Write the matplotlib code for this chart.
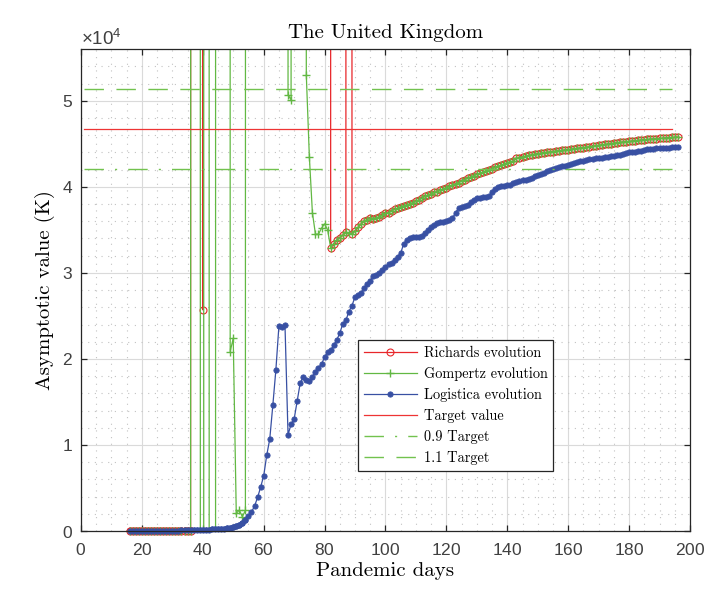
import matplotlib
matplotlib.use("Agg")
import matplotlib.pyplot as plt
from matplotlib.ticker import MultipleLocator, ScalarFormatter

plt.rcParams["font.family"] = ["Liberation Sans", "DejaVu Sans"]
plt.rcParams["mathtext.fontset"] = "custom"
plt.rcParams["mathtext.rm"] = "Liberation Sans"
plt.rcParams["axes.formatter.use_mathtext"] = True

# ---------------- DATA ----------------
# pandemic days 16..196 (one fit per day)
days = list(range(16, 197))

# Richards fits, days 16..81 (huge values = diverged fit, off the chart)
richards_head = [
    5, 5, 6, 6, 7, 7, 8, 8, 9, 9,
    10, 10, 11, 11, 12, 12, 13, 13, 14, 14, 15,
    3.1e6, 4.2e6, 2.7e6, 25700,
    5.0e6, 4.8e6, 6.1e6, 5.5e6, 4.9e6, 5.2e6, 6.3e6, 5.8e6, 4.4e6, 4.7e6,
    5.1e6, 5.6e6, 6.0e6, 5.3e6, 4.6e6, 4.9e6, 5.4e6, 5.9e6, 6.2e6, 5.0e6,
    4.5e6, 4.8e6, 5.3e6, 5.7e6, 6.1e6, 5.5e6, 5.2e6, 4.9e6, 4.6e6, 5.0e6,
    5.4e6, 5.8e6, 6.0e6, 5.6e6, 5.1e6, 4.7e6, 4.4e6, 4.9e6, 5.3e6, 5.7e6,
    5.2e6,
]

# Gompertz fits, days 16..81
gompertz_head = [
    5, 5, 6, 6, 7, 7, 8, 8, 9, 9,
    10, 10, 11, 11, 12, 12, 13, 13, 14, 14, 15,
    2.1e6, 3.4e6, 1.0e6, -4.0e6, 9.0e6, 1.0e6, -9.0e6, -2.0e6, 8.0e6, 6.5e6,
    5.2e6, 4.1e6,
    20850, 22400, 2060, 2440, 1660, 2400,
    3.2e6, 4.5e6, 5.1e6, 3.8e6, 4.4e6, 6.0e6, 5.2e6, 3.9e6, 4.7e6, 5.5e6,
    4.1e6, 3.6e6, 2.9e6,
    50700, 50100,
    2.4e6, 3.1e6, 2.6e6, 1.9e6,
    53000, 43500, 37000, 34500, 34500, 35200, 35700, 35000,
]

# common tail of Richards / Gompertz, days 82..196
converged_tail = [
    32900, 33400, 33800, 34100, 34400, 34700, 34600, 34500, 34900, 35300,
    35700, 36000, 36200, 36400, 36300, 36400, 36500, 36700, 36900, 37000,
    37200, 37400, 37500, 37700, 37800, 37900, 38000, 38170, 38300, 38500,
    38700, 38900, 39050, 39200, 39350, 39450, 39600, 39750, 39900, 40050,
    40200, 40350, 40500, 40700, 40850, 41000, 41150, 41300, 41450, 41550,
    41700, 41850, 41980, 42100, 42250, 42400, 42500, 42650, 42800, 42900,
    43000, 43300, 43400, 43500, 43550, 43650, 43700, 43800, 43850, 43900,
    43980, 44000, 44050, 44100, 44150, 44200, 44230, 44280, 44330, 44380,
    44420, 44470, 44520, 44560, 44600, 44650, 44720, 44770, 44820, 44870,
    44920, 44970, 45020, 45080, 45130, 45170, 45200, 45240, 45280, 45320,
    45360, 45400, 45440, 45470, 45500, 45530, 45560, 45600, 45630, 45660,
    45690, 45710, 45740, 45760, 45780,
]
richards_day88 = 4.6e6  # Richards diverges once more on day 88

# Logistic fits, days 16..196
logistica = [
    10, 12, 14, 16, 18, 20, 22, 25, 28, 31,
    35, 38, 42, 46, 50, 55, 60, 66, 72, 80,
    88, 97, 107, 118, 130, 145, 160, 180, 200, 225,
    255, 290, 330, 380, 450, 560, 700, 900, 1300, 1700,
    2200, 2900, 3900, 5100, 6400, 8800, 10700, 14600, 18700, 23800,
    23700, 23900, 11200, 12400, 13000, 15100, 17200, 17900, 17500, 17400,
    17900, 18500, 19000, 19400, 20200, 20800, 21000, 21600, 22200, 23000,
    24100, 24500, 25500, 26200, 27200, 27400, 27700, 28200, 28700, 29100,
    29600, 29700, 30000, 30300, 30700, 31000, 31200, 31500, 31900, 32300,
    33400, 33800, 34100, 34150, 34150, 34200, 34250, 34600, 35000, 35300,
    35600, 35850, 35900, 35950, 36000, 36100, 36350, 37000, 37500, 37600,
    37800, 37900, 38200, 38500, 38700, 38750, 38800, 38850, 38900, 39400,
    39800, 40000, 40100, 40150, 40200, 40250, 40400, 40600, 40650, 40750,
    40850, 40950, 41050, 41200, 41350, 41500, 41650, 41850, 42000, 42100,
    42200, 42300, 42400, 42450, 42550, 42650, 42750, 42850, 42950, 43050,
    43150, 43200, 43250, 43300, 43350, 43400, 43450, 43500, 43550, 43600,
    43650, 43750, 43850, 43950, 44000, 44050, 44100, 44150, 44200, 44300,
    44350, 44400, 44450, 44480, 44500, 44520, 44540, 44550, 44570, 44600,
    44600,
]

TARGET = 46740
TARGET_DAYS = [1, 194]

richards = richards_head + converged_tail
richards[88 - 16] = richards_day88
gompertz = gompertz_head + converged_tail

# ---------------- STYLE ----------------
RED = "#e8262a"
RED_T = "#ee3434"
GREEN = "#62b843"
GREEN_T = "#72c24e"
BLUE = "#3850a3"
SERIF = "cmr10"

fig = plt.figure(figsize=(7.06, 5.92), dpi=100)
ax = fig.add_axes([0.1147, 0.103, 0.8626, 0.814])

series = [
    (richards, dict(color=RED, marker="o", ms=5.0, mfc="none", mew=0.8),
     "Richards evolution"),
    (gompertz, dict(color=GREEN, marker="+", ms=5.2, mew=1.0),
     "Gompertz evolution"),
    (logistica, dict(color=BLUE, marker="o", ms=3.8, mew=0.6),
     "Logistica evolution"),
]
for vals, style, name in series:
    ax.plot(days, vals, lw=0.9, label=name, **style)
    # markers sitting on the x axis are not cut in half
    low = [(d, v) for d, v in zip(days, vals) if 0 <= v < 1500]
    ax.plot([d for d, _ in low], [v for _, v in low], ls="none",
            clip_on=False, zorder=2.5, **style)

ax.plot(TARGET_DAYS, [TARGET, TARGET], color=RED_T, lw=0.9, label="Target value")
ax.plot(TARGET_DAYS, [0.9 * TARGET] * 2, color=GREEN_T, lw=1.0,
        dashes=(14, 8, 1.5, 8), label="0.9 Target")
ax.plot(TARGET_DAYS, [1.1 * TARGET] * 2, color=GREEN_T, lw=1.0,
        dashes=(14, 9), label="1.1 Target")

ax.set_xlim(0, 200)
ax.set_ylim(0, 56000)
ax.xaxis.set_major_locator(MultipleLocator(20))
ax.xaxis.set_minor_locator(MultipleLocator(5))
ax.yaxis.set_major_locator(MultipleLocator(10000))
ax.yaxis.set_minor_locator(MultipleLocator(2000))

fmt = ScalarFormatter(useMathText=True)
fmt.set_powerlimits((4, 4))
ax.yaxis.set_major_formatter(fmt)
ax.yaxis.get_offset_text().set_fontsize(13.5)
ax.yaxis.get_offset_text().set_color("#404040")

ax.grid(which="major", color="#dadada", lw=0.8)
ax.grid(which="minor", color="#c2c2c2", lw=0.8, linestyle=(0, (1, 5)))
ax.set_axisbelow(True)

ax.tick_params(which="major", direction="in", length=4, width=0.9,
               top=True, right=True, labelsize=12.5, colors="#262626",
               labelcolor="#404040", pad=6)
ax.tick_params(axis="x", which="major", pad=8)
ax.tick_params(which="minor", length=0)
for s in ax.spines.values():
    s.set_color("#262626")
    s.set_linewidth(0.9)
    s.set_zorder(3)

ax.set_title("The United Kingdom", fontfamily=SERIF, fontsize=15, pad=8)
ax.set_xlabel("Pandemic days", fontfamily=SERIF, fontsize=15, labelpad=3)
ax.set_ylabel("Asymptotic value (K)", fontfamily=SERIF, fontsize=15, labelpad=5)

leg = ax.legend(loc="upper left", bbox_to_anchor=(0.455, 0.396),
                prop={"family": SERIF, "size": 10.3}, fancybox=False,
                framealpha=1, edgecolor="#262626", handlelength=3.7,
                labelspacing=0.5, borderaxespad=0, borderpad=0.4,
                handletextpad=0.5)
leg.get_frame().set_linewidth(0.9)

fig.savefig("out.png", dpi=100)
